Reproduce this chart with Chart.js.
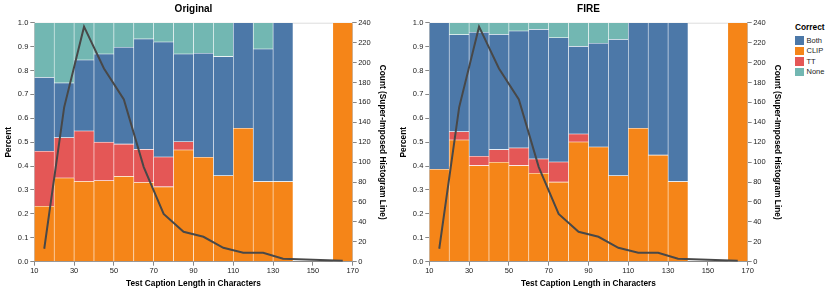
<!DOCTYPE html>
<html><head><meta charset="utf-8">
<script src="https://cdn.jsdelivr.net/npm/chart.js@4"></script>
<style>
body{margin:0;background:#fff;width:830px;height:292px;overflow:hidden;position:relative;font-family:"Liberation Sans",Arial,sans-serif}
.c{position:absolute;top:0}
#legend{position:absolute;left:795px;top:22px;font-size:7.5px;color:#222}
#legend .t{font-weight:bold;font-size:8.3px;color:#000;margin-bottom:3px}
#legend .r{height:10.5px;display:flex;align-items:center}
#legend .s{width:8.5px;height:8.5px;margin-right:3px}
</style></head><body>
<canvas id="c1" class="c" style="left:0" width="395" height="292"></canvas>
<canvas id="c2" class="c" style="left:395px" width="395" height="292"></canvas>
<div id="legend"><div class="t">Correct</div>
<div class="r"><div class="s" style="background:#4c78a8"></div>Both</div>
<div class="r"><div class="s" style="background:#f58518"></div>CLIP</div>
<div class="r"><div class="s" style="background:#e45756"></div>TT</div>
<div class="r"><div class="s" style="background:#72b7b2"></div>None</div>
</div>
<script>
// bin starts (Test Caption Length in Characters), width 10
const binStart = [10,20,30,40,50,60,70,80,90,100,110,120,130,140,150,160];
// histogram counts (right axis)
const counts = [13,155,236,194,163,95,48,30,25,14,9,9,3,null,null,1];
// Original: fraction per bin
const origCLIP = [.232,.350,.336,.339,.357,.331,.313,.467,.437,.360,.558,.335,.335,null,null,1];
const origTT   = [.230,.169,.211,.161,.135,.139,.125,.035,0,0,0,0,0,null,null,0];
const origBoth = [.309,.229,.297,.369,.405,.462,.481,.367,.435,.498,.442,.555,.665,null,null,0];
const origNone = [.229,.252,.156,.131,.103,.068,.081,.131,.128,.142,0,.110,0,null,null,0];
// FIRE: fraction per bin
const fireCLIP = [.387,.509,.402,.416,.402,.370,.333,.501,.480,.360,.558,.446,.335,null,null,1];
const fireTT   = [0,.035,.039,.053,.074,.060,.084,.033,0,0,0,0,0,null,null,0];
const fireBoth = [.613,.406,.519,.482,.489,.542,.520,.367,.434,.570,.442,.554,.665,null,null,0];
const fireNone = [0,.050,.040,.049,.035,.028,.063,.099,.086,.070,0,0,0,null,null,0];
const xTicks = [10,30,50,70,90,110,130,150,170];
const yTicks = [0,.1,.2,.3,.4,.5,.6,.7,.8,.9,1];
const countTicks = [0,20,40,60,80,100,120,140,160,180,200,220,240];

const COLORS = {Both:'#4c78a8', CLIP:'#f58518', TT:'#e45756', None:'#72b7b2'};
const FONT = '"Liberation Sans", Arial, Helvetica, sans-serif';
Chart.defaults.font.family = FONT;

function pts(arr){
  const out=[];
  binStart.forEach((b,i)=>{ if(arr[i]!==null && arr[i]!==undefined) out.push({x:b+5,y:arr[i]}); });
  return out;
}
function barDs(label,arr){
  return {type:'bar',label,data:pts(arr),backgroundColor:COLORS[label],
    borderColor:'rgba(255,255,255,0.7)',borderWidth:0.6,borderSkipped:false,
    barPercentage:1,categoryPercentage:1,yAxisID:'y',order:1};
}
const deco = {
  id:'deco',
  beforeDatasetsDraw(chart){
    const {ctx,chartArea:a}=chart;
    ctx.save();ctx.strokeStyle='#ddd';ctx.lineWidth=1;
    ctx.beginPath();ctx.moveTo(a.left,a.top+0.5);ctx.lineTo(a.right,a.top+0.5);ctx.stroke();ctx.restore();
  },
  afterDraw(chart,args,opts){
    const {ctx,chartArea:a}=chart;
    ctx.save();ctx.font='bold 10px '+FONT;ctx.fillStyle='#000';ctx.textAlign='center';ctx.textBaseline='middle';
    ctx.fillText(opts.text,(a.left+a.right)/2,9.5);ctx.restore();
  }
};
function make(id,title,c,t,b,n){
  const tickFont={size:7.5};
  new Chart(document.getElementById(id),{
    data:{datasets:[
      {type:'line',label:'Count',data:pts(counts),yAxisID:'y2',borderColor:'#484848',borderWidth:2,
       pointRadius:0,tension:0,fill:false,order:0},
      barDs('CLIP',c),barDs('TT',t),barDs('Both',b),barDs('None',n)
    ]},
    options:{responsive:false,animation:false,
      layout:{padding:{top:22.7,left:0,right:0,bottom:0}},
      plugins:{legend:{display:false},tooltip:{enabled:false},deco:{text:title}},
      scales:{
        x:{type:'linear',min:10,max:170,stacked:true,offset:false,
          afterBuildTicks(s){s.ticks=xTicks.map(v=>({value:v}));},
          afterFit(s){s.height=30.3;},
          grid:{display:true,drawOnChartArea:false,offset:false,tickLength:4,color:'#888'},
          border:{display:true,color:'#888'},
          ticks:{font:tickFont,color:'#222',padding:1,maxRotation:0,autoSkip:false},
          title:{display:true,text:'Test Caption Length in Characters',font:{size:8.3,weight:'bold'},color:'#000',padding:{top:1,bottom:3}}},
        y:{position:'left',min:0,max:1,stacked:true,
          afterBuildTicks(s){s.ticks=yTicks.map(v=>({value:v}));},
          afterFit(s){s.width=34.3;},
          grid:{drawOnChartArea:false,tickLength:4,color:'#888'},
          border:{display:true,color:'#888'},
          ticks:{font:tickFont,color:'#222',padding:2,callback:v=>v.toFixed(1)},
          title:{display:true,text:'Percent',font:{size:8.3,weight:'bold'},color:'#000',padding:{top:3.5,bottom:0}}},
        y2:{position:'right',min:0,max:240,
          afterBuildTicks(s){s.ticks=countTicks.map(v=>({value:v}));},
          afterFit(s){s.width=42.3;},
          grid:{drawOnChartArea:false,tickLength:4,color:'#888'},
          border:{display:true,color:'#888'},
          ticks:{font:tickFont,color:'#222',padding:1.5},
          title:{display:true,text:'Count (Super-Imposed Histogram Line)',font:{size:8.3,weight:'bold'},color:'#000',padding:{top:8,bottom:0}}}
      }
    },
    plugins:[deco]
  });
}
make('c1','Original',origCLIP,origTT,origBoth,origNone);
make('c2','FIRE',fireCLIP,fireTT,fireBoth,fireNone);
</script>
</body></html>
